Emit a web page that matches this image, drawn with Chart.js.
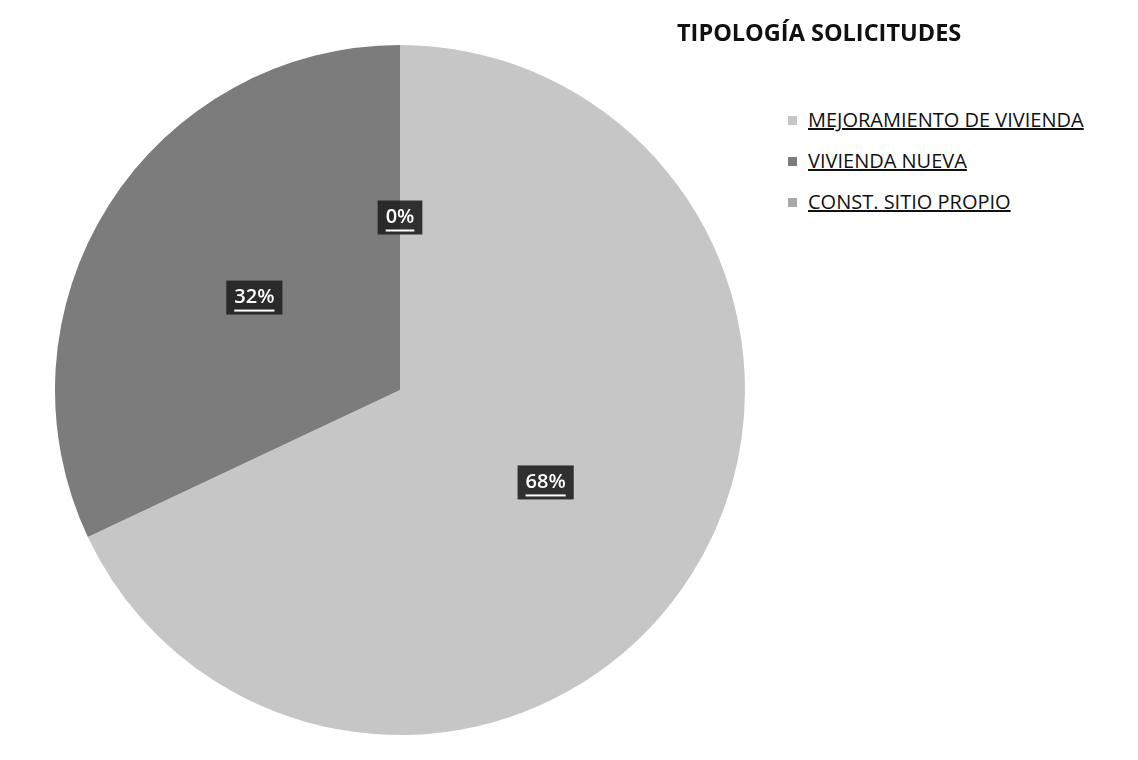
<!DOCTYPE html>
<html><head><meta charset="utf-8">
<script src="https://cdn.jsdelivr.net/npm/chart.js@4/dist/chart.umd.min.js"></script>
<style>
html,body{margin:0;padding:0;background:#fff;width:1138px;height:760px;overflow:hidden;font-family:"Open Sans","Liberation Sans",sans-serif;}
#wrap{position:absolute;left:55px;top:45px;width:690px;height:690px;}
#title{position:absolute;left:677px;top:16px;font-size:23.5px;line-height:32px;font-weight:bold;color:#111;white-space:nowrap;}
#legend{position:absolute;left:788px;top:106px;}
.item{height:41px;display:flex;align-items:flex-start;font-size:20px;line-height:28px;color:#111;white-space:nowrap;}
.sw{width:9px;height:9px;margin-right:11px;margin-top:10px;}
.item span.t{text-decoration:underline;}
</style></head>
<body>
<div id="wrap"><canvas id="c"></canvas></div>
<div id="title"></div>
<div id="legend"></div>
<script>
const titleText = "TIPOLOGÍA SOLICITUDES";
const categories = ["MEJORAMIENTO DE VIVIENDA","VIVIENDA NUEVA","CONST. SITIO PROPIO"];
const values = [68, 32, 0];
const colors = ["#c6c6c6","#7c7c7c","#a8a8a8"];

document.getElementById('title').textContent = titleText;
const lg = document.getElementById('legend');
categories.forEach((c,i)=>{
  const d=document.createElement('div');d.className='item';
  const s=document.createElement('span');s.className='sw';s.style.background=colors[i];
  const t=document.createElement('span');t.className='t';t.textContent=c;
  d.appendChild(s);d.appendChild(t);lg.appendChild(d);
});

const labelPlugin = {
  id:'pctLabels',
  afterDatasetsDraw(chart){
    const ctx=chart.ctx;
    const meta=chart.getDatasetMeta(0);
    const total=values.reduce((a,b)=>a+b,0);
    ctx.save();
    ctx.font='600 20px "Open Sans", sans-serif';
    ctx.textAlign='center';ctx.textBaseline='middle';
    meta.data.forEach((arc,i)=>{
      const p=arc.tooltipPosition();
      const txt=Math.round(values[i]/total*100)+'%';
      const w=ctx.measureText(txt).width;
      ctx.fillStyle='rgba(35,35,35,0.92)';
      ctx.fillRect(p.x-w/2-8,p.y-17,w+16,34);
      ctx.fillStyle='#fff';
      ctx.fillText(txt,p.x,p.y);
      ctx.fillRect(p.x-w/2,p.y+12,w,2);
    });
    ctx.restore();
  }
};

new Chart(document.getElementById('c'),{
  type:'pie',
  data:{labels:categories,datasets:[{data:values,backgroundColor:colors,borderWidth:0}]},
  options:{
    responsive:true,maintainAspectRatio:false,animation:false,
    layout:{padding:0},
    plugins:{legend:{display:false},tooltip:{enabled:false},title:{display:false}}
  },
  plugins:[labelPlugin]
});
</script>
</body></html>
